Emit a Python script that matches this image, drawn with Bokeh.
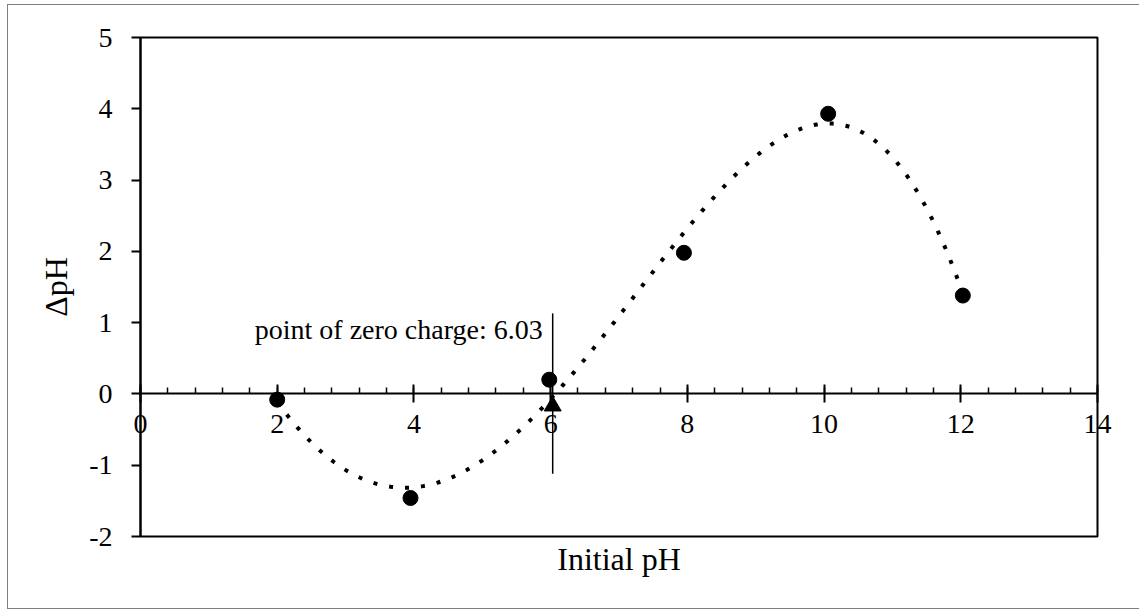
import numpy as np
from bokeh.plotting import figure
from bokeh.models import (Range1d, SingleIntervalTicker, Label, LinearAxis,
                          ColumnDataSource, PrintfTickFormatter, BoxAnnotation)
from bokeh.embed import file_html
from bokeh.resources import INLINE

# ---- data ----
ph_initial = [2.0, 3.95, 5.98, 7.95, 10.06, 12.03]
delta_ph = [-0.08, -1.46, 0.20, 1.98, 3.93, 1.38]
pzc_x = [6.03]
pzc_y = [-0.17]
pzc_bar_y = [-1.12, 1.13]
pzc_label = "point of zero charge: 6.03"
x_axis_bounds = (0, 14)
y_axis_bounds = (-2, 5)
x_title = "Initial pH"
y_title = "ΔpH"
trend_degree = 4

FONT = "Liberation Serif"

# the frame covers the whole chart area; the plot box is drawn inside it
p = figure(width=1131, height=603, output_backend="svg", toolbar_location=None,
           x_range=Range1d(-1.931, 14.6145), y_range=Range1d(-3.010, 5.4489),
           x_axis_location=None, y_axis_location=None,
           min_border=0, min_border_left=0, min_border_right=0,
           min_border_top=0, min_border_bottom=0)
p.margin = (5, 0, 0, 8)
p.styles = {"outline": "1.5px solid #7f7f7f"}
p.grid.visible = False
p.outline_line_color = None
p.background_fill_color = "white"
p.border_fill_color = "white"

# plot-area box
p.add_layout(BoxAnnotation(left=x_axis_bounds[0], right=x_axis_bounds[1],
                           bottom=y_axis_bounds[0], top=y_axis_bounds[1],
                           fill_alpha=0, line_color="black", line_alpha=1.0,
                           line_width=2, level="underlay"))

# x axis crossing at y = 0
xa = LinearAxis(fixed_location=0, bounds=x_axis_bounds,
                ticker=SingleIntervalTicker(interval=2, num_minor_ticks=5),
                formatter=PrintfTickFormatter(format="%d"))
xa.axis_line_width = 2
xa.major_tick_in = 9
xa.major_tick_out = 9
xa.major_tick_line_width = 2
xa.minor_tick_in = 6
xa.minor_tick_out = 0
xa.minor_tick_line_width = 1.5
xa.major_label_text_font = FONT
xa.major_label_text_font_size = "28px"
xa.major_label_text_color = "black"
xa.major_label_standoff = 12
p.add_layout(xa, "below")

# y axis at x = 0
ya = LinearAxis(fixed_location=0, bounds=y_axis_bounds,
                ticker=SingleIntervalTicker(interval=1, num_minor_ticks=0),
                formatter=PrintfTickFormatter(format="%d"))
ya.axis_line_width = 2
ya.major_tick_in = 0
ya.major_tick_out = 9
ya.major_tick_line_width = 2
ya.minor_tick_line_color = None
ya.major_label_text_font = FONT
ya.major_label_text_font_size = "28px"
ya.major_label_text_color = "black"
ya.major_label_standoff = 19
ya.axis_label = y_title
ya.axis_label_text_font = FONT
ya.axis_label_text_font_size = "32px"
ya.axis_label_text_font_style = "normal"
ya.axis_label_text_color = "black"
ya.axis_label_standoff = 12
p.add_layout(ya, "left")

# polynomial trendline fitted to the data
coef = np.polyfit(ph_initial, delta_ph, trend_degree)
tx = np.linspace(min(ph_initial), max(ph_initial), 400)
ty = np.polyval(coef, tx)
p.line(tx, ty, line_color="black", line_width=4, line_dash="4 12")

src = ColumnDataSource(dict(x=ph_initial, y=delta_ph))
p.scatter("x", "y", source=src, marker="circle", size=15,
          fill_color="black", line_color="black")

# point of zero charge marker and line
p.segment(x0=[pzc_x[0]], y0=[pzc_bar_y[0]], x1=[pzc_x[0]], y1=[pzc_bar_y[1]],
          line_color="black", line_width=1.5)
p.scatter(pzc_x, pzc_y, marker="triangle", size=17,
          fill_color="black", line_color="black")

p.add_layout(Label(x=pzc_x[0], y=0.9, x_offset=-10, text=pzc_label,
                   text_align="right", text_baseline="middle",
                   text_font=FONT, text_font_size="28px", text_color="black"))

p.add_layout(Label(x=sum(x_axis_bounds) / 2, y=y_axis_bounds[0], y_offset=-4,
                   text=x_title, text_align="center", text_baseline="top",
                   text_font=FONT, text_font_size="32px", text_color="black"))

open("out.html", "w").write(file_html(p, INLINE))
